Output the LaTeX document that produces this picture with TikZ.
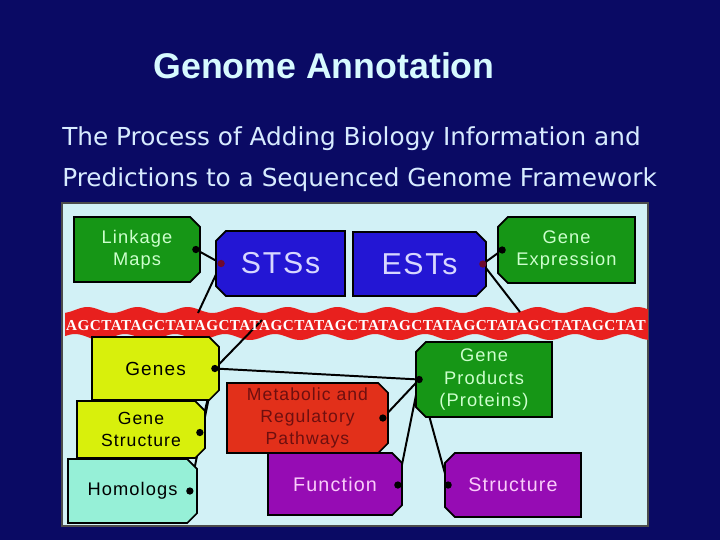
\documentclass[tikz,border=0pt]{standalone}
\usepackage{fontspec}
\setmainfont{Liberation Sans}
\newfontfamily\boxfont[LetterSpace=6]{Liberation Sans}
\newfontfamily\subfont{DejaVu Sans}
\newfontfamily\dnafont[LetterSpace=3]{Liberation Serif}
\usetikzlibrary{shapes.misc,calc}

\definecolor{slide}{RGB}{10,10,100}
\definecolor{panelfill}{RGB}{210,241,246}
\definecolor{titlecyan}{RGB}{215,250,255}
\definecolor{subcyan}{RGB}{215,235,255}
\definecolor{dnared}{RGB}{232,32,30}
\definecolor{leaffill}{RGB}{22,150,22}
\definecolor{leaftext}{RGB}{205,255,205}
\definecolor{seafill}{RGB}{35,22,212}
\definecolor{seatext}{RGB}{215,215,255}
\definecolor{lemonfill}{RGB}{216,240,12}
\definecolor{mintfill}{RGB}{150,240,215}
\definecolor{brickfill}{RGB}{226,48,26}
\definecolor{bricktext}{RGB}{110,15,15}
\definecolor{plumfill}{RGB}{150,12,180}
\definecolor{plumtext}{RGB}{250,205,250}
\definecolor{pinred}{RGB}{110,10,45}

\pgfdeclarelayer{back}
\pgfdeclarelayer{wires}
\pgfsetlayers{back,wires,main}

\begin{document}
\begin{tikzpicture}[
    x=0.025cm, y=-0.025cm,
    every node/.style={font=\boxfont},
    tag/.style={chamfered rectangle, chamfered rectangle xsep=3.5pt, chamfered rectangle ysep=3.5pt,
        draw=black, line width=1.2pt, align=center, inner sep=0pt},
    tagR/.style={tag, chamfered rectangle corners={north east,south east}},
    tagL/.style={tag, chamfered rectangle corners={north west,south west}},
    leaf/.style={fill=leaffill, text=leaftext},
    sea/.style={fill=seafill, text=seatext},
    lemon/.style={fill=lemonfill, text=black},
    minty/.style={fill=mintfill, text=black},
    brick/.style={fill=brickfill, text=bricktext},
    plum/.style={fill=plumfill, text=plumtext},
    link/.style={line width=1.4pt, black}
]
% slide and panel
\begin{pgfonlayer}{back}
\fill[slide] (0,0) rectangle (720,540);
\fill[panelfill, draw=black!70, line width=0.8pt] (62,203) rectangle (648,526);
\fill[dnared] plot[domain=65:648, samples=120, smooth] (\x, {310+3*sin(7.2*\x)})
    -- plot[domain=648:65, samples=120, smooth] (\x, {337+3*sin(7.2*\x+90)}) -- cycle;
\end{pgfonlayer}

\node[font=\bfseries\fontsize{25.4}{30}\selectfont, text=titlecyan, anchor=base] (title) at (324,78) {Genome Annotation};
\node[font=\subfont\fontsize{17.6}{20}\selectfont, text=subcyan, anchor=base west, inner sep=0pt] (sub1) at (62,145) {The Process of Adding Biology Information and};
\node[font=\subfont\fontsize{17.6}{20}\selectfont, text=subcyan, anchor=base west, inner sep=0pt] (sub2) at (62,186) {Predictions to a Sequenced Genome Framework};

\node[font=\dnafont\bfseries\fontsize{10.8}{12}\selectfont, text=white, inner sep=0pt] (dna) at (356,326) {AGCTATAGCTATAGCTATAGCTATAGCTATAGCTATAGCTATAGCTATAGCTAT};

% upper row
\node[tagR, leaf, minimum width=3.15cm, minimum height=1.625cm, font=\boxfont\fontsize{13}{15.5}\selectfont] (lm) at (137,249.5) {Linkage\\Maps};
\node[tagL, sea, minimum width=3.225cm, minimum height=1.625cm, font=\boxfont\fontsize{21.5}{24}\selectfont] (sts) at (280.5,263.5) {STSs};
\node[tagR, sea, minimum width=3.325cm, minimum height=1.6cm, font=\boxfont\fontsize{21.5}{24}\selectfont] (est) at (419.5,264) {ESTs};
\node[tagL, leaf, minimum width=3.425cm, minimum height=1.65cm, font=\boxfont\fontsize{13}{16}\selectfont] (ge) at (566.5,250) {Gene\\Expression};

% lower part
\node[tagR, lemon, minimum width=3.175cm, minimum height=1.575cm, font=\boxfont\fontsize{13.5}{16}\selectfont] (genes) at (155.5,368.5) {Genes};
\node[tagR, lemon, minimum width=3.2cm, minimum height=1.425cm, font=\boxfont\fontsize{12.5}{15.6}\selectfont] (gs) at (141,429.5) {Gene\\Structure};
\node[tagR, minty, minimum width=3.225cm, minimum height=1.6cm, font=\boxfont\fontsize{13}{16}\selectfont] (hom) at (132.5,491) {Homologs};
\node[tagR, brick, minimum width=4.025cm, minimum height=1.625cm, font=\boxfont\fontsize{12.5}{15.6}\selectfont] (met) at (307.5,418) {Metabolic and\\Regulatory\\Pathways};
\node[tagR, plum, minimum width=3.35cm, minimum height=1.55cm, font=\boxfont\fontsize{14}{16}\selectfont] (fun) at (335,484) {Function};
\node[tagL, leaf, minimum width=3.4cm, minimum height=1.875cm, font=\boxfont\fontsize{13}{16}\selectfont] (gp) at (484,379.5) {Gene\\Products\\(Proteins)};
\node[tagL, plum, minimum width=3.4cm, minimum height=1.6cm, font=\boxfont\fontsize{14}{16}\selectfont] (str) at (513,485) {Structure};

% pins
\coordinate (lmDot) at ($(lm.east)+(-5,0)$);
\coordinate (stsDot) at ($(sts.west)+(6,0)$);
\coordinate (estDot) at ($(est.east)+(-4,0)$);
\coordinate (geDot) at ($(ge.west)+(5,0)$);
\coordinate (genesDot) at ($(genes.east)+(-5,0)$);
\coordinate (gsDot) at ($(gs.east)+(-6,3)$);
\coordinate (homDot) at ($(hom.east)+(-8,0)$);
\coordinate (metDot) at ($(met.east)+(-6,0)$);
\coordinate (funDot) at ($(fun.east)+(-5,1)$);
\coordinate (gpDot) at ($(gp.west)+(4,0)$);
\coordinate (strDot) at ($(str.west)+(4,0)$);
\coordinate (dnaA) at (198,313);
\coordinate (dnaB) at (262,320);
\coordinate (dnaC) at (520,312);

\begin{pgfonlayer}{wires}
\draw[link] (lmDot) -- (stsDot);
\draw[link] (stsDot) -- (dnaA);
\draw[link] (estDot) -- (geDot);
\draw[link] (estDot) -- (dnaC);
\draw[link] (genesDot) -- (dnaB);
\draw[link] (genesDot) -- (gpDot);
\draw[link] (genesDot) -- (gsDot);
\draw[link] (genesDot) -- (homDot);
\draw[link] (metDot) -- (gpDot);
\draw[link] (funDot) -- (gpDot);
\draw[link] (strDot) -- (gpDot);
\end{pgfonlayer}

\foreach \p in {lmDot,geDot,genesDot,gsDot,homDot,metDot,funDot,gpDot,strDot}
    \fill[black] (\p) circle[radius=2.6pt];
\foreach \p in {stsDot,estDot}
    \fill[pinred] (\p) circle[radius=2.6pt];
\end{tikzpicture}
\end{document}
